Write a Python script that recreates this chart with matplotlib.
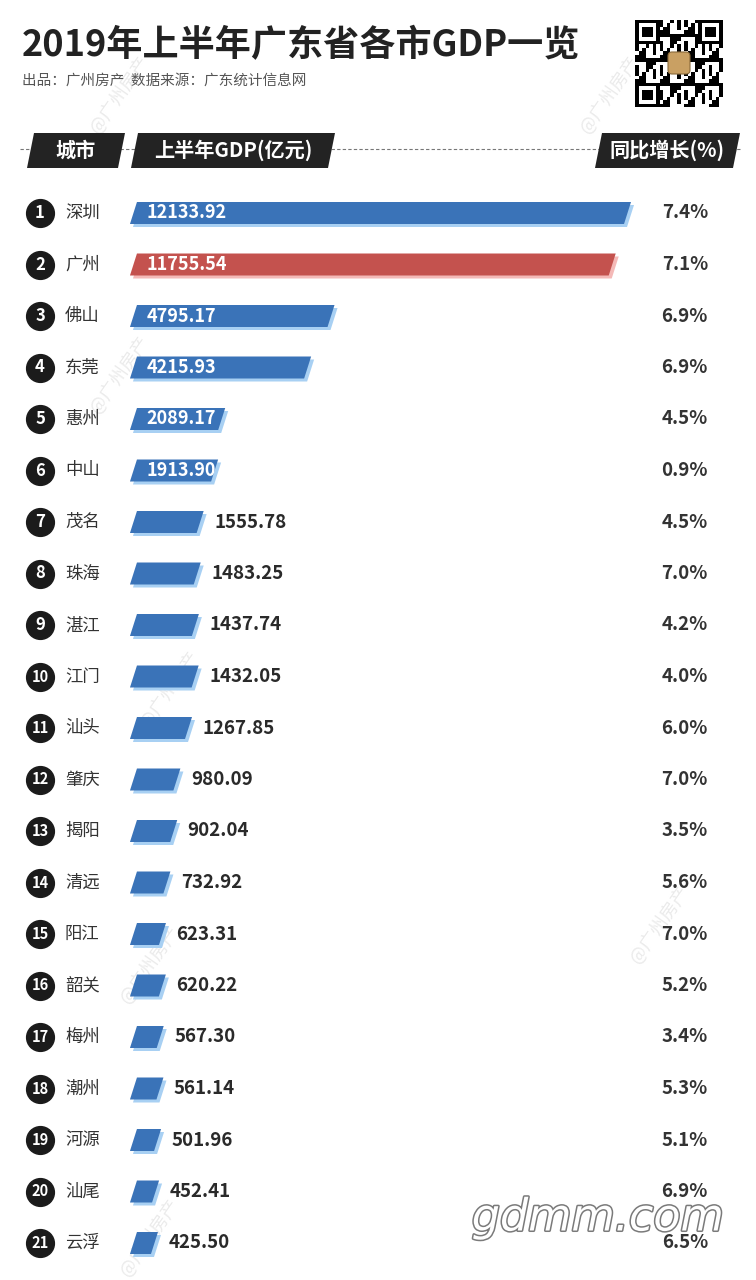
import numpy as np
import matplotlib.pyplot as plt
import matplotlib.patheffects as pe
from matplotlib.patches import Polygon, FancyBboxPatch

plt.rcParams['font.family'] = ['Noto Sans CJK SC', 'DejaVu Sans']

# Data: 2019 H1 GDP of Guangdong cities (100 million yuan) and YoY growth (%)
cities = ["深圳", "广州", "佛山", "东莞", "惠州", "中山", "茂名", "珠海", "湛江", "江门",
          "汕头", "肇庆", "揭阳", "清远", "阳江", "韶关", "梅州", "潮州", "河源", "汕尾", "云浮"]
gdp = [12133.92, 11755.54, 4795.17, 4215.93, 2089.17, 1913.90, 1555.78, 1483.25, 1437.74, 1432.05,
       1267.85, 980.09, 902.04, 732.92, 623.31, 620.22, 567.30, 561.14, 501.96, 452.41, 425.50]
growth = [7.4, 7.1, 6.9, 6.9, 4.5, 0.9, 4.5, 7.0, 4.2, 4.0,
          6.0, 7.0, 3.5, 5.6, 7.0, 5.2, 3.4, 5.3, 5.1, 6.9, 6.5]
highlight = "广州"

W, H = 756, 1280
fig = plt.figure(figsize=(W / 100, H / 100), dpi=100)
fig.patch.set_facecolor("white")

# Header / decoration layer in pixel coordinates
deco = fig.add_axes([0, 0, 1, 1])
deco.set_xlim(0, W)
deco.set_ylim(H, 0)
deco.axis("off")

deco.text(22, 46, "2019年上半年广东省各市GDP一览", fontsize=26, fontweight="bold",
          color="#222222", va="center", ha="left")
deco.text(22, 81, "出品：广州房产  数据来源：广东统计信息网", fontsize=10.5,
          color="#555555", va="center", ha="left")

# fake QR code block (decoration)
n = 25
ii, jj = np.indices((n, n))
qr = ((ii * ii + 3 * jj + ii * jj) % 7 < 3).astype(float)
for (ci, cj) in [(0, 0), (0, n - 7), (n - 7, 0)]:
    qr[ci:ci + 7, cj:cj + 7] = 1
    qr[ci + 1:ci + 6, cj + 1:cj + 6] = 0
    qr[ci + 2:ci + 5, cj + 2:cj + 5] = 1
deco.imshow(qr, cmap="gray_r", extent=(635, 723, 107, 20), interpolation="nearest",
            aspect="auto", zorder=2)
deco.add_patch(FancyBboxPatch((669, 53), 20, 20, boxstyle="round,pad=1,rounding_size=4",
                              facecolor="#c9a063", edgecolor="#8a6a3a", lw=0.8, zorder=3))

# header row
deco.plot([20, 740], [149, 149], color="#777777", lw=0.8, ls=(0, (3, 2)), zorder=1)
for (xl, xr, label) in [(27, 118, "城市"), (131, 328, "上半年GDP(亿元)"), (595, 733, "同比增长(%)")]:
    sk = 7
    deco.add_patch(Polygon([(xl, 168), (xr, 168), (xr + sk, 133), (xl + sk, 133)],
                           closed=True, facecolor="#232323", edgecolor="none", zorder=2))
    deco.text((xl + xr + sk) / 2, 150, label, fontsize=14.5, fontweight="bold",
              color="white", ha="center", va="center", zorder=3)

# faint watermarks
for (wx, wy) in [(120, 95), (610, 95), (120, 375), (170, 690), (150, 965), (150, 1238), (660, 925)]:
    deco.text(wx, wy, "@广州房产", fontsize=13, rotation=55, color="#cccccc", alpha=0.4,
              ha="center", va="center", zorder=0)

# Bar layer in data coordinates
px_per_unit = 0.0404
zero_px = 133.8
row0, row_gap = 213, 51.5
ax = fig.add_axes([0, 0, 1, 1])
ax.patch.set_alpha(0)
ax.set_xlim(-zero_px / px_per_unit, (W - zero_px) / px_per_unit)
ax.set_ylim(1 + (H - row0) / row_gap, 1 - row0 / row_gap)
ax.axis("off")

pad = 95
skew = 7 / px_per_unit
half = 11 / row_gap
sdx, sdy = 3 / px_per_unit, 3 / row_gap
yt = ax.get_yaxis_transform()

for k, (city, v, g) in enumerate(zip(cities, gdp, growth)):
    r = k + 1
    if city == highlight:
        col, shade = "#c4524e", "#f4b9b7"
    else:
        col, shade = "#3a73b8", "#a8d0f3"
    pts = [(-pad, r + half), (v, r + half), (v + skew, r - half), (-pad + skew, r - half)]
    ax.add_patch(Polygon([(x + sdx, y + sdy) for x, y in pts], closed=True,
                         facecolor=shade, edgecolor="none", zorder=2))
    ax.add_patch(Polygon(pts, closed=True, facecolor=col, edgecolor="none", zorder=3))

    if v > 1800:
        ax.annotate(f"{v:.2f}", xy=(0, r), xytext=(9, 0), textcoords="offset points",
                    fontsize=13, fontweight="bold", color="white", ha="left", va="center",
                    zorder=4)
    else:
        ax.annotate(f"{v:.2f}", xy=(v + skew / 2, r), xytext=(10, 0), textcoords="offset points",
                    fontsize=13.5, fontweight="bold", color="#2a2a2a", ha="left", va="center",
                    zorder=4)

    ax.text(708 / W, r, f"{g:.1f}%", transform=yt, fontsize=13.5, fontweight="bold",
            color="#333333", ha="right", va="center", zorder=4)
    ax.text(65 / W, r, city, transform=yt, fontsize=12.5, color="#333333",
            ha="left", va="center", zorder=4)
    ax.scatter([40 / W], [r], s=400, color="#1b1b1b", transform=yt, zorder=4)
    ax.text(40 / W, r, str(r), transform=yt, fontsize=12 if r < 10 else 10.5,
            fontweight="bold", color="white", ha="center", va="center", zorder=5)

# bottom-right site watermark
deco.text(598, 1218, "gdmm.com", fontsize=32, fontstyle="italic", fontweight="light",
          family="DejaVu Sans", color="white", ha="center", va="center", zorder=6,
          path_effects=[pe.withStroke(linewidth=2.2, foreground="#7a7a7a")])

fig.savefig("out.png", dpi=100)
